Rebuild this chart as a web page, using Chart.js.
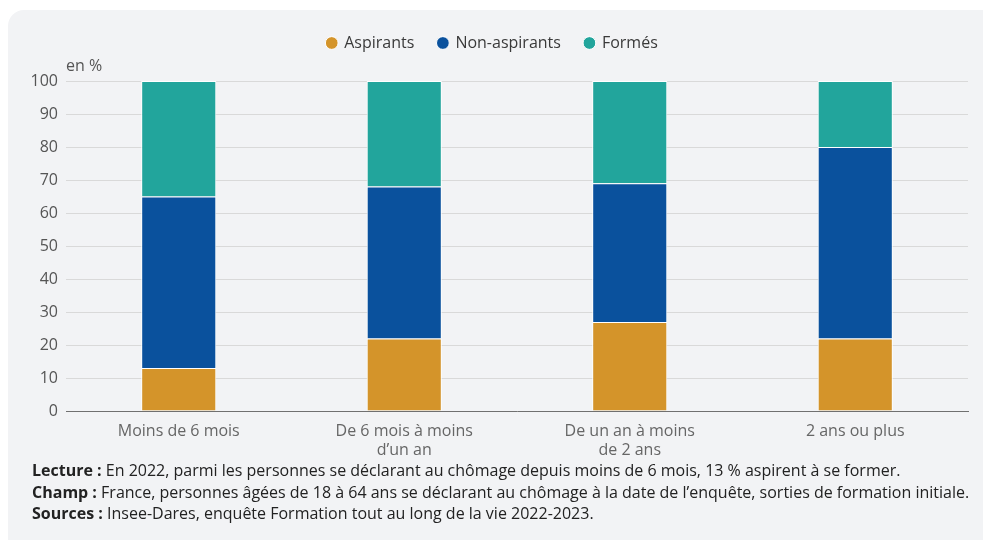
<!DOCTYPE html>
<html lang="fr">
<head>
<meta charset="utf-8">
<script src="https://cdn.jsdelivr.net/npm/chart.js@4"></script>
<style>
    body { margin: 0; background: #ffffff; font-family: 'Open Sans', sans-serif; }
    #panneau {
        position: absolute; left: 8px; top: 10px; width: 1000px; height: 560px;
        background: #f2f3f5; border-radius: 16px;
    }
    #zoneGraphique { position: absolute; left: 17px; top: 10px; width: 966px; height: 450px; }
    #unite { position: absolute; left: 66px; top: 54px; font-size: 16px; line-height: 22px; color: #555; }
    #notes {
        position: absolute; left: 32px; top: 460px; font-size: 16px; line-height: 21.5px; color: #222;
    }
    #notes b { font-weight: 700; }
</style>
</head>
<body>
<div id="panneau"></div>
<div id="zoneGraphique"><canvas id="graficoDuree"></canvas></div>
<div id="unite">en %</div>
<div id="notes">
    <div><b>Lecture :</b> En 2022, parmi les personnes se déclarant au chômage depuis moins de 6 mois, 13 % aspirent à se former.</div>
    <div><b>Champ :</b> France, personnes âgées de 18 à 64 ans se déclarant au chômage à la date de l’enquête, sorties de formation initiale.</div>
    <div><b>Sources :</b> Insee-Dares, enquête Formation tout au long de la vie 2022-2023.</div>
</div>
<script>
const categorias = [
    'Moins de 6 mois',
    ['De 6 mois à moins', 'd’un an'],
    ['De un an à moins', 'de 2 ans'],
    '2 ans ou plus'
];
const aspirants = [13, 22, 27, 22];
const nonAspirants = [52, 46, 42, 58];
const formes = [35, 32, 31, 20];

const graficoDuree = document.getElementById('graficoDuree');

const data_graficoDuree = {
    labels: categorias,
    datasets: [
        { label: 'Aspirants', data: aspirants, backgroundColor: '#d4942a' },
        { label: 'Non-aspirants', data: nonAspirants, backgroundColor: '#0a519d' },
        { label: 'Formés', data: formes, backgroundColor: '#22a59c' }
    ]
};

data_graficoDuree.datasets.forEach(function (d) {
    d.borderColor = '#ffffff';
    d.borderWidth = 1;
    d.borderSkipped = 'bottom';
    d.barPercentage = 0.333;
    d.categoryPercentage = 1;
});

// espace supplementaire sous la legende
const margeLegende = {
    id: 'margeLegende',
    beforeInit: function (chart) {
        const fitOriginal = chart.legend.fit;
        chart.legend.fit = function () {
            fitOriginal.bind(chart.legend)();
            this.height += 20;
        };
    }
};

const config_graficoDuree = {
    type: 'bar',
    data: data_graficoDuree,
    plugins: [margeLegende],
    options: {
        responsive: true,
        maintainAspectRatio: false,
        animation: false,
        layout: { padding: { left: 0, right: 15, top: 1, bottom: 0 } },
        scales: {
            x: {
                stacked: true,
                grid: { display: false },
                border: { display: true, color: '#707070', width: 1 },
                ticks: {
                    color: '#666666',
                    padding: 3,
                    font: { size: 16, family: 'Open Sans' }
                },
                afterFit: function (scale) { scale.height = 49; }
            },
            y: {
                stacked: true,
                min: 0,
                max: 100,
                grid: { color: '#d9d9d9', lineWidth: 1, drawTicks: false },
                border: { display: false },
                ticks: {
                    stepSize: 10,
                    color: '#555555',
                    padding: 8,
                    font: { size: 16, family: 'Open Sans' }
                },
                afterFit: function (scale) { scale.width = 49; }
            }
        },
        plugins: {
            legend: {
                display: true,
                position: 'top',
                labels: {
                    usePointStyle: true,
                    pointStyle: 'circle',
                    boxWidth: 9,
                    boxHeight: 9,
                    padding: 24,
                    color: '#3a3a3a',
                    font: { size: 16, family: 'Open Sans' }
                }
            },
            tooltip: { enabled: false }
        }
    }
};

const graficoEmUso = new Chart(graficoDuree, config_graficoDuree);
</script>
</body>
</html>
